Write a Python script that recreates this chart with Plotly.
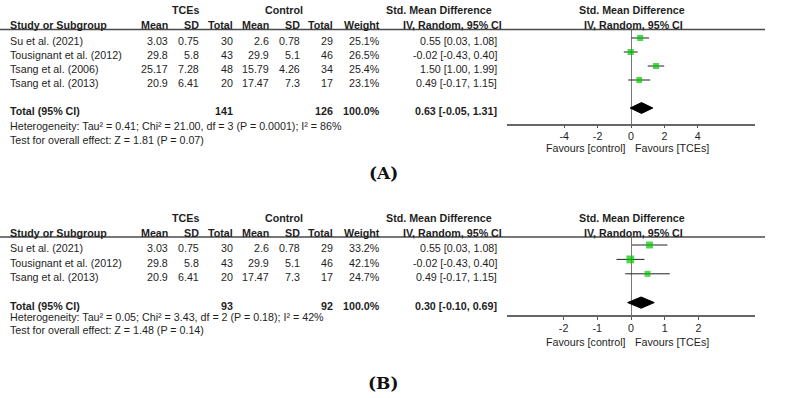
import math
import plotly.graph_objects as go

W, H = 799, 398
SANS = "Liberation Sans, Arial, sans-serif"
SERIF = "DejaVu Serif, serif"
TXT = "#1e1e1e"
GREEN = "#00c800"

# ---------------- Data: panel A ----------------
studies_a = ["Su et al. (2021)", "Tousignant et al. (2012)", "Tsang et al. (2006)", "Tsang et al. (2013)"]
tce_mean_a = ["3.03", "29.8", "25.17", "20.9"]
tce_sd_a = ["0.75", "5.8", "7.28", "6.41"]
tce_n_a = [30, 43, 48, 20]
ctl_mean_a = ["2.6", "29.9", "15.79", "17.47"]
ctl_sd_a = ["0.78", "5.1", "4.26", "7.3"]
ctl_n_a = [29, 46, 34, 17]
weight_a = [25.1, 26.5, 25.4, 23.1]
smd_a = [0.55, -0.02, 1.50, 0.49]
lo_a = [0.03, -0.43, 1.00, -0.17]
hi_a = [1.08, 0.40, 1.99, 1.15]
total_n_a = [141, 126]
total_smd_a = [0.63, -0.05, 1.31]
het_a = "Heterogeneity: Tau² = 0.41; Chi² = 21.00, df = 3 (P = 0.0001); I² = 86%"
test_a = "Test for overall effect: Z = 1.81 (P = 0.07)"
ticks_a = [-4, -2, 0, 2, 4]
tick_labels_a = ["-4", "-2", "0", "2", "4"]

# ---------------- Data: panel B ----------------
studies_b = ["Su et al. (2021)", "Tousignant et al. (2012)", "Tsang et al. (2013)"]
tce_mean_b = ["3.03", "29.8", "20.9"]
tce_sd_b = ["0.75", "5.8", "6.41"]
tce_n_b = [30, 43, 20]
ctl_mean_b = ["2.6", "29.9", "17.47"]
ctl_sd_b = ["0.78", "5.1", "7.3"]
ctl_n_b = [29, 46, 17]
weight_b = [33.2, 42.1, 24.7]
smd_b = [0.55, -0.02, 0.49]
lo_b = [0.03, -0.43, -0.17]
hi_b = [1.08, 0.40, 1.15]
total_n_b = [93, 92]
total_smd_b = [0.30, -0.10, 0.69]
het_b = "Heterogeneity: Tau² = 0.05; Chi² = 3.43, df = 2 (P = 0.18); I² = 42%"
test_b = "Test for overall effect: Z = 1.48 (P = 0.14)"
ticks_b = [-2, -1, 0, 1, 2]
tick_labels_b = ["-2", "-1", "0", "1", "2"]

panel_labels = ["(A)", "(B)"]

fig = go.Figure()
annotations = []
shapes = []


def py(p):
    return 1 - p / H


def txt(x, y, s, anchor="left", bold=False, size=10.7, family=SANS, color=TXT):
    annotations.append(dict(
        x=x / W, y=py(y), xref="paper", yref="paper",
        text=f"<b>{s}</b>" if bold else s, showarrow=False,
        xanchor=anchor, yanchor="middle", borderpad=0, borderwidth=0,
        font=dict(size=size, family=family, color=color)))


# column right edges (px)
COLS = [168, 199, 233, 269, 300, 333, 380, 497]


def panel(idx, geo, studies, tm, tsd, tn, cm, csd, cn, wts, smd, lo, hi,
          tot_n, tot_smd, het, test, ticks, ticklabels, xhalf, label):
    xa = "x" if idx == 1 else f"x{idx}"
    ya = "y" if idx == 1 else f"y{idx}"
    r0, sp = geo["row0"], geo["sp"]
    n = len(studies)
    tot_i = n + 1
    # headers
    txt(185, geo["h1"], "TCEs", "center", True)
    txt(284, geo["h1"], "Control", "center", True)
    txt(439, geo["h1"], "Std. Mean Difference", "center", True)
    txt(632, geo["h1"], "Std. Mean Difference", "center", True)
    txt(10, geo["h2"], "Study or Subgroup", "left", True)
    for x, s in zip(COLS[:7], ["Mean", "SD", "Total", "Mean", "SD", "Total", "Weight"]):
        txt(x, geo["h2"], s, "right", True)
    txt(452, geo["h2"], "IV, Random, 95% CI", "center", True)
    txt(633, geo["h2"], "IV, Random, 95% CI", "center", True)
    shapes.append(dict(type="line", xref="paper", yref="paper", x0=0, x1=765 / W,
                       y0=py(geo["line"]), y1=py(geo["line"]),
                       line=dict(color="#4a4a4a", width=1.5)))
    # rows
    for i in range(n):
        y = r0 + sp * i + 3.3
        txt(10, y, studies[i])
        vals = [tm[i], tsd[i], str(tn[i]), cm[i], csd[i], str(cn[i]),
                f"{wts[i]:.1f}%", f"{smd[i]:.2f} [{lo[i]:.2f}, {hi[i]:.2f}]"]
        for x, s in zip(COLS, vals):
            txt(x, y, s, "right")
    yt = r0 + sp * tot_i + 3.3
    txt(10, yt, "Total (95% CI)", "left", True)
    txt(COLS[2], yt, str(tot_n[0]), "right", True)
    txt(COLS[5], yt, str(tot_n[1]), "right", True)
    txt(COLS[6], yt, "100.0%", "right", True)
    txt(COLS[7], yt, f"{tot_smd[0]:.2f} [{tot_smd[1]:.2f}, {tot_smd[2]:.2f}]", "right", True)
    txt(10, geo["het"], het)
    txt(10, geo["test"], test)
    txt(626, geo["fav"], "Favours [control]", "right")
    txt(635, geo["fav"], "Favours [TCEs]", "left")
    txt(383, geo["lab"], label, "center", True, 17, SERIF, "#111")

    # forest plot marks
    cx, cy = [], []
    for i in range(n):
        cx += [lo[i], hi[i], None]
        cy += [i, i, None]
    fig.add_trace(go.Scatter(x=cx, y=cy, mode="lines", xaxis=xa, yaxis=ya,
                             line=dict(color="#222", width=1), hoverinfo="skip"))
    fig.add_trace(go.Scatter(x=smd, y=list(range(n)), mode="markers", xaxis=xa, yaxis=ya,
                             marker=dict(symbol="square", color=GREEN,
                                         size=[1.2 * math.sqrt(w) for w in wts],
                                         line=dict(width=0))))
    hh = 0.39
    est, dlo, dhi = tot_smd
    fig.add_trace(go.Scatter(x=[dlo, est, dhi, est, dlo],
                             y=[tot_i, tot_i - hh, tot_i, tot_i + hh, tot_i],
                             mode="lines", fill="toself", fillcolor="black",
                             line=dict(color="black", width=1), xaxis=xa, yaxis=ya))
    top_i = (geo["line"] - r0) / sp
    bot_i = (geo["axis"] - r0) / sp
    xkey = "xaxis" if idx == 1 else f"xaxis{idx}"
    ykey = "yaxis" if idx == 1 else f"yaxis{idx}"
    fig.update_layout(**{
        xkey: dict(domain=[507 / W, 755 / W], anchor=ya, range=[-xhalf, xhalf],
                   tickmode="array", tickvals=ticks, ticktext=ticklabels,
                   ticks="outside", ticklen=3, tickcolor="#555", tickwidth=1,
                   ticklabelstandoff=-1,
                   showline=True, linecolor="#666", linewidth=1.5,
                   zeroline=True, zerolinecolor="#7a7a7a", zerolinewidth=1,
                   showgrid=False, tickfont=dict(size=10.7, family=SANS, color=TXT),
                   fixedrange=True),
        ykey: dict(domain=[py(geo["axis"]), py(geo["line"])], anchor=xa,
                   range=[bot_i, top_i], visible=False, showgrid=False,
                   zeroline=False, fixedrange=True),
    })


geo_a = dict(h1=10, h2=25, line=29.5, row0=38, sp=14, axis=123.5, het=126, test=140, fav=148, lab=173)
geo_b = dict(h1=218, h2=233, line=237, row0=245, sp=14.4, axis=315, het=317, test=330, fav=341.5, lab=383)

panel(1, geo_a, studies_a, tce_mean_a, tce_sd_a, tce_n_a, ctl_mean_a, ctl_sd_a, ctl_n_a,
      weight_a, smd_a, lo_a, hi_a, total_n_a, total_smd_a, het_a, test_a,
      ticks_a, tick_labels_a, 7.43, panel_labels[0])
panel(2, geo_b, studies_b, tce_mean_b, tce_sd_b, tce_n_b, ctl_mean_b, ctl_sd_b, ctl_n_b,
      weight_b, smd_b, lo_b, hi_b, total_n_b, total_smd_b, het_b, test_b,
      ticks_b, tick_labels_b, 3.68, panel_labels[1])

fig.update_layout(width=W, height=H, margin=dict(l=0, r=0, t=0, b=0),
                  paper_bgcolor="white", plot_bgcolor="white", showlegend=False,
                  annotations=annotations, shapes=shapes)
fig.write_html("out.html")
